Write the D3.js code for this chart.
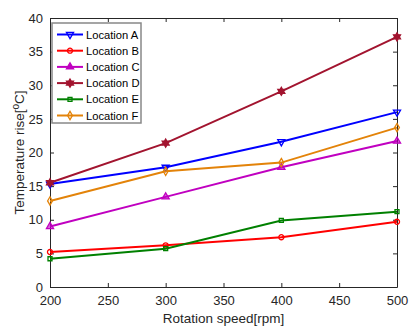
<!DOCTYPE html>
<html>
<head>
<meta charset="utf-8">
<script src="https://cdn.jsdelivr.net/npm/d3@7"></script>
<style>
  body { margin: 0; background: #fff; }
  text { font-family: "Liberation Sans", Arial, sans-serif; }
</style>
</head>
<body>
<script>
// data
const speeds = [200, 300, 400, 500];
const seriesNames = ["Location A", "Location B", "Location C", "Location D", "Location E", "Location F"];
const locA = [15.3, 17.8, 21.6, 26.0];
const locB = [5.2, 6.2, 7.4, 9.7];
const locC = [9.0, 13.4, 17.8, 21.7];
const locD = [15.5, 21.4, 29.1, 37.2];
const locE = [4.2, 5.7, 9.9, 11.2];
const locF = [12.8, 17.2, 18.5, 23.7];
const xTicks = [200, 250, 300, 350, 400, 450, 500];
const yTicks = [0, 5, 10, 15, 20, 25, 30, 35, 40];

// six-point star like the matlab 'h' marker
const hexagram = {
  draw(ctx, size) {
    const r = Math.sqrt(size / 1.6);
    const ri = r * 0.58;
    for (let k = 0; k < 12; k++) {
      const a = -Math.PI / 2 + k * Math.PI / 6;
      const rr = k % 2 ? ri : r;
      if (k === 0) ctx.moveTo(rr * Math.cos(a), rr * Math.sin(a));
      else ctx.lineTo(rr * Math.cos(a), rr * Math.sin(a));
    }
    ctx.closePath();
  }
};

const colors = ["#0000ff", "#ff0000", "#c000c0", "#a2142f", "#008000", "#e38309"];
const symbols = [
  d3.symbolTriangle, d3.symbolCircle, d3.symbolTriangle,
  hexagram, d3.symbolSquare, d3.symbolDiamond
];
const rotate = [180, 0, 0, 0, 0, 0];
const filled = [false, false, true, true, false, false];
const sizes = [22, 20, 22, 26, 16, 20];

const allSeries = [locA, locB, locC, locD, locE, locF].map((v, i) => ({name: seriesNames[i], values: v, i}));

const W = 411, H = 332;
const margin = {top: 18, right: 14, bottom: 45, left: 50};
const width = W - margin.left - margin.right;
const height = H - margin.top - margin.bottom;

const svg = d3.select("body").append("svg")
  .attr("width", W).attr("height", H);
const g = svg.append("g").attr("transform", `translate(${margin.left},${margin.top})`);

const x = d3.scaleLinear().domain([200, 500]).range([0, width]);
const y = d3.scaleLinear().domain([0, 40]).range([height, 0]);

const axisColor = "#262626";

// axes (box style)
const styleAxis = sel => {
  sel.select(".domain").attr("stroke", axisColor).attr("stroke-width", 1);
  sel.selectAll(".tick line").attr("stroke", axisColor);
  sel.selectAll(".tick text").attr("fill", axisColor).attr("font-size", 13);
};
g.append("g").attr("transform", `translate(0,${height})`)
  .call(d3.axisBottom(x).tickValues(xTicks).tickSize(-4).tickPadding(9).tickSizeOuter(0))
  .call(styleAxis);
g.append("g")
  .call(d3.axisLeft(y).tickValues(yTicks).tickSize(-4).tickPadding(7).tickSizeOuter(0))
  .call(styleAxis);
g.append("g")
  .call(d3.axisTop(x).tickValues(xTicks).tickSize(-4).tickFormat("").tickSizeOuter(0))
  .call(styleAxis);
g.append("g").attr("transform", `translate(${width},0)`)
  .call(d3.axisRight(y).tickValues(yTicks).tickSize(-4).tickFormat("").tickSizeOuter(0))
  .call(styleAxis);

// lines
const line = d3.line().x((d, j) => x(speeds[j])).y(d => y(d));
const marker = i => d3.symbol().type(symbols[i]).size(sizes[i]);

allSeries.forEach(s => {
  g.append("path").datum(s.values)
    .attr("fill", "none").attr("stroke", colors[s.i]).attr("stroke-width", 2)
    .attr("d", line);
  g.selectAll(null).data(s.values).join("path")
    .attr("d", marker(s.i))
    .attr("transform", (d, j) => `translate(${x(speeds[j])},${y(d)}) rotate(${rotate[s.i]})`)
    .attr("fill", filled[s.i] ? colors[s.i] : "none")
    .attr("fill-opacity", s.i === 2 ? 0.6 : 1)
    .attr("stroke", colors[s.i]).attr("stroke-width", 1.3);
});

// legend
const legend = svg.append("g").attr("transform", "translate(52,23)");
legend.append("rect").attr("width", 89).attr("height", 100)
  .attr("fill", "#fff").attr("stroke", "#888").attr("stroke-width", 1.5);
allSeries.forEach(s => {
  const ly = 11.5 + s.i * 16.2;
  const row = legend.append("g").attr("transform", `translate(0,${ly})`);
  row.append("line").attr("x1", 5).attr("x2", 31).attr("stroke", colors[s.i]).attr("stroke-width", 2);
  row.append("path").attr("d", marker(s.i))
    .attr("transform", `translate(18,0) rotate(${rotate[s.i]})`)
    .attr("fill", filled[s.i] ? colors[s.i] : "none")
    .attr("stroke", colors[s.i]).attr("stroke-width", 1.3);
  row.append("text").attr("x", 34).attr("y", 4)
    .attr("font-size", 11.2).attr("fill", "#000").text(s.name);
});

// axis labels
svg.append("text")
  .attr("x", margin.left + width / 2).attr("y", 323)
  .attr("text-anchor", "middle").attr("font-size", 13.5).attr("fill", axisColor)
  .text("Rotation speed[rpm]");
const yl = svg.append("text")
  .attr("transform", `translate(24,${margin.top + height / 2}) rotate(-90)`)
  .attr("text-anchor", "middle").attr("font-size", 13.5).attr("fill", axisColor);
yl.append("tspan").text("Temperature rise[");
yl.append("tspan").attr("dy", -5).attr("font-size", 10).text("o");
yl.append("tspan").attr("dy", 5).text("C]");
</script>
</body>
</html>
